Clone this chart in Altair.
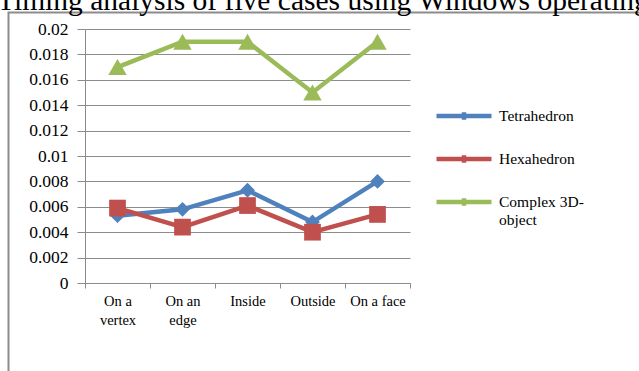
import altair as alt
import pandas as pd

categories = ["On a vertex", "On an edge", "Inside", "Outside", "On a face"]
series_names = ["Tetrahedron", "Hexahedron", "Complex 3D-object"]
tetrahedron = [0.0053, 0.0058, 0.0073, 0.0048, 0.0080]
hexahedron = [0.0059, 0.0044, 0.0061, 0.0040, 0.0054]
complex3d = [0.017, 0.019, 0.019, 0.015, 0.019]
y_ticks = [0, 0.002, 0.004, 0.006, 0.008, 0.01, 0.012, 0.014, 0.016, 0.018, 0.02]
title_text = "Timing analysis of five cases using Windows operating system"

colors = ["#4F81BD", "#C0504D", "#9BBB59"]
shapes = ["diamond", "square", "triangle-up"]
sizes = [220, 340, 480]

rows = []
for name, vals in zip(series_names, [tetrahedron, hexahedron, complex3d]):
    for c, v in zip(categories, vals):
        rows.append({"case": c, "series": name, "marker": name, "value": v,
                     "order": series_names.index(name)})
df = pd.DataFrame(rows)

FONT = "Liberation Serif"
GRAY = "#8C8C8C"

x_enc = alt.X(
    "case:N",
    sort=categories,
    scale=alt.Scale(paddingInner=0, paddingOuter=0),
    axis=alt.Axis(
        title=None,
        labelAngle=0,
        tickBand="extent",
        tickSize=5,
        tickColor=GRAY,
        domainColor=GRAY,
        labelFont=FONT,
        labelFontSize=14.5,
        labelColor="black",
        labelPadding=6,
        labelLineHeight=19,
        labelBaseline="top",
        labelExpr="datum.value == 'On a vertex' ? ['On a','vertex'] : datum.value == 'On an edge' ? ['On an','edge'] : datum.value",
    ),
)
y_enc = alt.Y(
    "value:Q",
    scale=alt.Scale(domain=[0, 0.02], nice=False),
    axis=alt.Axis(
        title=None,
        values=y_ticks,
        labelExpr="datum.value == 0 ? '0' : format(datum.value, '.3~f')",
        grid=True,
        gridColor=GRAY,
        gridWidth=1,
        tickSize=8,
        tickColor=GRAY,
        domainColor=GRAY,
        labelFont=FONT,
        labelFontSize=17.5,
        labelColor="black",
        labelPadding=9,
    ),
)

color_scale = alt.Scale(domain=series_names, range=colors)

legend_symbol = "M-1,0L1,0M0,-0.14L0,0.14"

base = alt.Chart(df)

lines = base.mark_line(strokeWidth=4.5).encode(
    x=x_enc,
    y=y_enc,
    color=alt.Color(
        "series:N",
        scale=color_scale,
        sort=series_names,
        legend=alt.Legend(
            title=None,
            orient="none",
            legendX=349,
            legendY=57,
            symbolType=legend_symbol,
            symbolSize=3025,
            symbolStrokeWidth=4.5,
            labelFont=FONT,
            labelFontSize=15.5,
            labelColor="black",
            labelOffset=5,
            rowPadding=0,
            labelExpr="datum.label == 'Complex 3D-object' ? ['Complex 3D-','object'] : datum.label",
            labelLimit=200,
        ),
    ),
    order="order:Q",
)

points = base.mark_point(filled=True, opacity=1).encode(
    x=x_enc,
    y=y_enc,
    color=alt.Color("series:N", scale=color_scale, legend=None),
    shape=alt.Shape("marker:N", scale=alt.Scale(domain=series_names, range=shapes), legend=None),
    size=alt.Size("marker:N", scale=alt.Scale(domain=series_names, range=sizes), legend=None),
)

frame_df = pd.DataFrame({"k": [0]})
frame = alt.Chart(frame_df).mark_rect(fill="transparent", stroke=GRAY, strokeWidth=2).encode(
    x=alt.value(-76.5), y=alt.value(-16.5), x2=alt.value(700), y2=alt.value(500)
)
title = alt.Chart(frame_df).mark_text(
    text=title_text, font=FONT, fontSize=29.5, align="left", baseline="alphabetic", color="black"
).encode(x=alt.value(-88), y=alt.value(-19))

chart = alt.layer(frame, title, lines, points).resolve_legend(
    color="independent", shape="independent", size="independent"
).properties(
    width=325,
    height=254,
    autosize=alt.AutoSizeParams(type="none"),
    padding={"left": 85, "top": 29, "right": 229, "bottom": 88},
    background="white",
).configure_view(stroke=None)

chart.save("out.html", embed_options={"renderer": "svg", "actions": False})
